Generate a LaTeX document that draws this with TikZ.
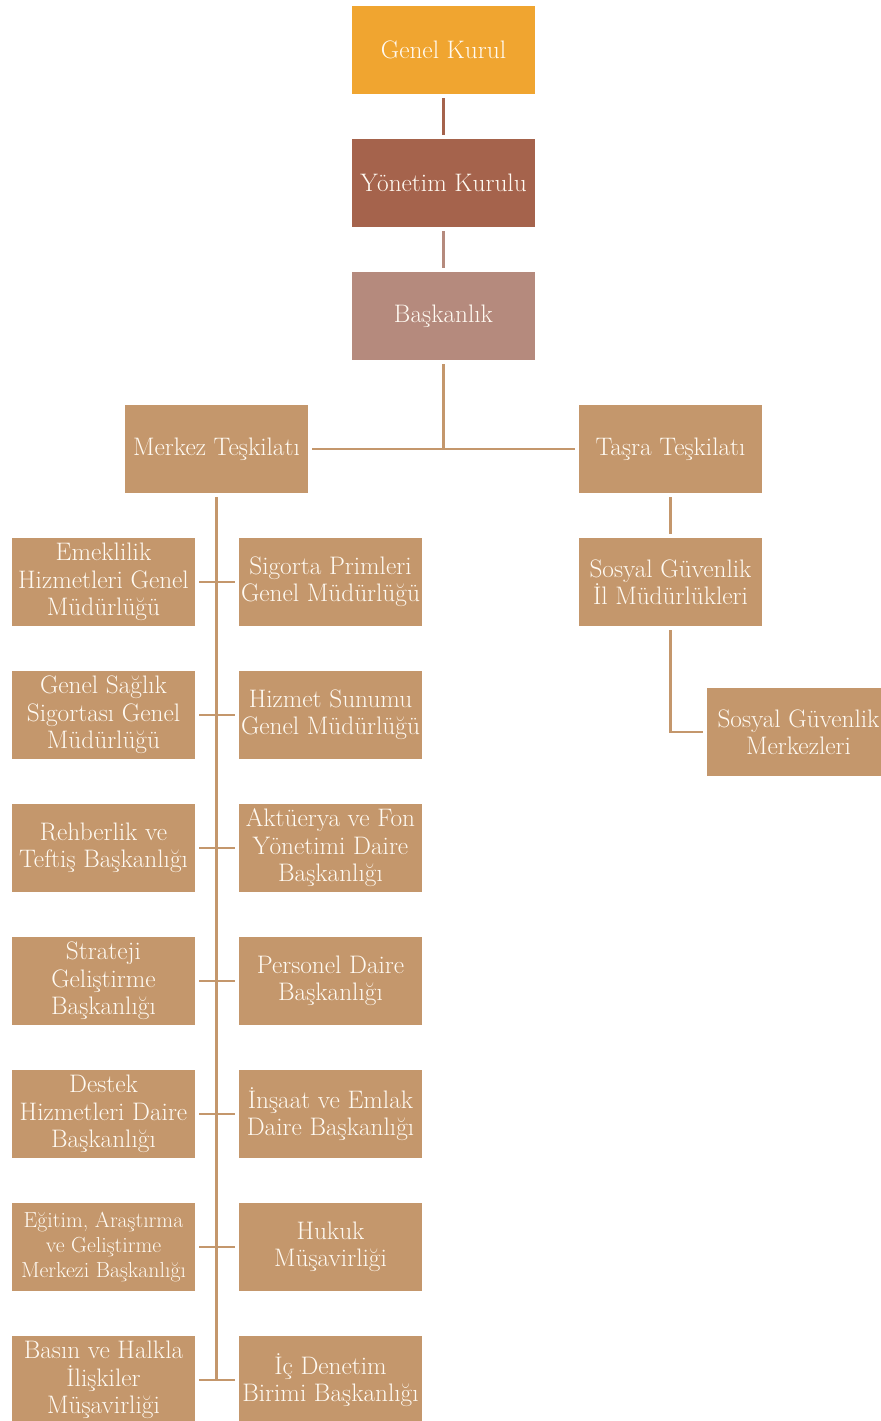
\documentclass[tikz,border=0pt]{standalone}
\usepackage{tikz}
\definecolor{kurulturuncu}{RGB}{240,165,48}
\definecolor{yonetimkahve}{RGB}{165,99,76}
\definecolor{baskanpembe}{RGB}{181,138,125}
\definecolor{birimten}{RGB}{196,151,108}
\definecolor{kutuyazi}{RGB}{255,250,242}

\begin{document}
\begin{tikzpicture}[x=0.025cm, y=-0.025cm,
    kutu/.style={draw=white, line width=0.8pt, fill=birimten, text=kutuyazi,
        minimum width=4.625cm, minimum height=2.25cm, inner sep=1pt,
        align=center, font=\fontsize{18}{19.5}\selectfont},
    baglanti/.style={draw=birimten, line width=2pt, shorten <=2pt, shorten >=2pt}]
    \clip (0,0) rectangle (881,1421);

    % Top of the hierarchy
    \node[kutu, fill=kurulturuncu] (genelkurul) at (443.5,50) {Genel Kurul};
    \node[kutu, fill=yonetimkahve] (yonetim) at (443.5,183) {Yönetim Kurulu};
    \node[kutu, fill=baskanpembe] (baskanlik) at (443.5,316) {Başkanlık};
    \draw[baglanti, draw=yonetimkahve] (genelkurul) -- (yonetim);
    \draw[baglanti, draw=baskanpembe] (yonetim) -- (baskanlik);

    % Central and provincial organisation
    \node[kutu] (merkez) at (216.5,449) {Merkez Teşkilatı};
    \node[kutu] (tasra) at (670.5,449) {Taşra Teşkilatı};
    \coordinate (kavsak) at (443.5,449);
    \draw[baglanti, shorten >=0pt] (baskanlik) -- (kavsak);
    \draw[baglanti] (merkez) -- (tasra);

    % Provincial units
    \node[kutu] (ilmud) at (670.5,582) {Sosyal Güvenlik\\İl Müdürlükleri};
    \node[kutu] (sgm) at (798.5,732) {Sosyal Güvenlik\\Merkezleri};
    \draw[baglanti] (tasra) -- (ilmud);
    \draw[baglanti] (ilmud.south) |- (sgm.west);

    % Central units, left column
    \node[kutu] (sol1) at (103.5,582) {Emeklilik\\Hizmetleri Genel\\Müdürlüğü};
    \node[kutu] (sol2) at (103.5,715) {Genel Sağlık\\Sigortası Genel\\Müdürlüğü};
    \node[kutu] (sol3) at (103.5,848) {Rehberlik ve\\Teftiş Başkanlığı};
    \node[kutu] (sol4) at (103.5,981) {Strateji\\Geliştirme\\Başkanlığı};
    \node[kutu] (sol5) at (103.5,1114) {Destek\\Hizmetleri Daire\\Başkanlığı};
    \node[kutu, font=\fontsize{15.5}{18}\selectfont] (sol6) at (103.5,1247) {Eğitim, Araştırma\\ve Geliştirme\\Merkezi Başkanlığı};
    \node[kutu] (sol7) at (103.5,1380) {Basın ve Halkla\\İlişkiler\\Müşavirliği};

    % Central units, right column
    \node[kutu] (sag1) at (330.5,582) {Sigorta Primleri\\Genel Müdürlüğü};
    \node[kutu] (sag2) at (330.5,715) {Hizmet Sunumu\\Genel Müdürlüğü};
    \node[kutu] (sag3) at (330.5,848) {Aktüerya ve Fon\\Yönetimi Daire\\Başkanlığı};
    \node[kutu] (sag4) at (330.5,981) {Personel Daire\\Başkanlığı};
    \node[kutu] (sag5) at (330.5,1114) {İnşaat ve Emlak\\Daire Başkanlığı};
    \node[kutu] (sag6) at (330.5,1247) {Hukuk\\Müşavirliği};
    \node[kutu] (sag7) at (330.5,1380) {İç Denetim\\Birimi Başkanlığı};

    % Trunk and branches
    \coordinate (govdeson) at (216.5,1381);
    \draw[baglanti, shorten >=0pt] (merkez) -- (govdeson);
    \draw[baglanti] (sol1) -- (sag1);
    \draw[baglanti] (sol2) -- (sag2);
    \draw[baglanti] (sol3) -- (sag3);
    \draw[baglanti] (sol4) -- (sag4);
    \draw[baglanti] (sol5) -- (sag5);
    \draw[baglanti] (sol6) -- (sag6);
    \draw[baglanti] (sol7) -- (sag7);
\end{tikzpicture}
\end{document}
